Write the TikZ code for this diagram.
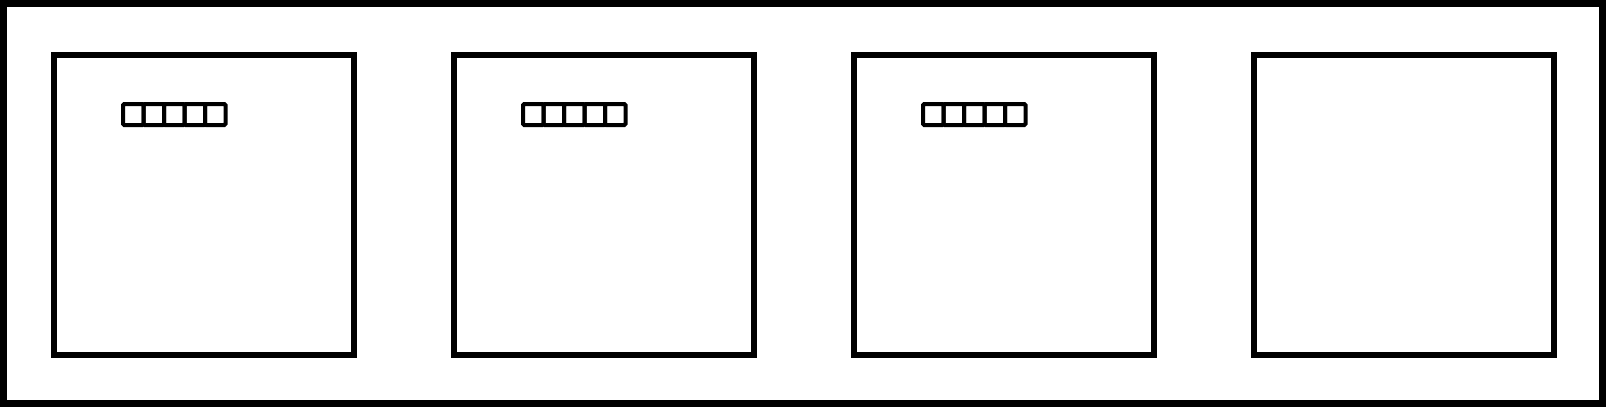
\documentclass[tikz,border=0pt]{standalone}
\begin{document}
\begin{tikzpicture}[x=0.5pt,y=-0.5pt,
  frame/.style={draw=black,line width=3.3pt},
  panel/.style={draw=black,line width=3pt,minimum width=150pt,minimum height=150pt,inner sep=0pt,outer sep=0pt},
  cell/.style={draw=black,line width=2pt,minimum width=10.25pt,minimum height=10.5pt,inner sep=0pt,outer sep=0pt,rounded corners=0.6pt}]
\useasboundingbox (0,0) rectangle (1606,407);
\node[frame,minimum width=799.7pt,minimum height=200.2pt,inner sep=0pt,outer sep=0pt] (outer) at (803,203.5) {};
\foreach \i/\cx in {1/204,2/604,3/1004,4/1404}{
  \node[panel] (p\i) at (\cx,205) {};
}
\foreach \i/\l in {1/54,2/454,3/854}{
  \foreach \k in {0,...,4}{
    \node[cell] (c\i\k) at ({\l+69+10.25+20.5*\k},114.5) {};
  }
}
\end{tikzpicture}
\end{document}
